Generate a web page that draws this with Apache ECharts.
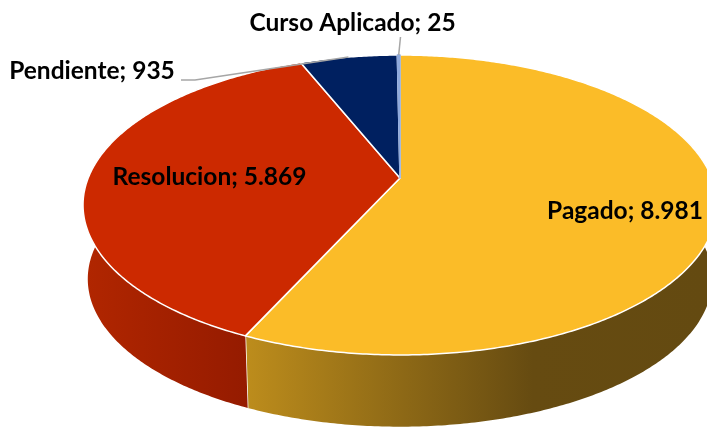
<!DOCTYPE html>
<html>
<head>
<meta charset="utf-8">
<style>
  html, body { margin: 0; padding: 0; background: #fff; }
  #main { width: 707px; height: 427px; }
</style>
<script src="https://cdn.jsdelivr.net/npm/echarts@6/dist/echarts.min.js"></script>
</head>
<body>
<div id="main"></div>
<script>
const categories = ['Pagado', 'Resolucion', 'Pendiente', 'Curso Aplicado']
const values = [8981, 5869, 935, 25]
const valueLabels = ['8.981', '5.869', '935', '25']

const topColors = ['#FBBC28', '#CC2900', '#002060', '#8FAADC']
const topStrokes = ['#fff', '#fff', '#fff', '#8FAADC']

// pie geometry, tilted disc projected with a small perspective
const apexX = 400
const apexY = 178
const radiusX = 311.8
const radiusY = 145.1
const tilt = 0.18
const midY = 205
const baseScale = 0.985
const depth = 74

const total = values.reduce((a, b) => a + b, 0)

const sliceAngles = (index) => {
  const before = values.slice(0, index).reduce((a, b) => a + b, 0)
  return [
    (before / total) * Math.PI * 2,
    ((before + values[index]) / total) * Math.PI * 2,
  ]
}

const rimPoint = (angle) => {
  const x = Math.sin(angle)
  const y = -Math.cos(angle)
  const d = 1 - tilt * y
  return [apexX + (radiusX * x) / d, apexY + (radiusY * y) / d]
}

const basePoint = (p) => [
  apexX + (p[0] - apexX) * baseScale,
  midY + (p[1] - midY) * baseScale + depth,
]

const rimPoints = (from, to) => {
  const steps = Math.max(2, Math.ceil((to - from) / 0.01))
  const points = []
  for (let i = 0; i <= steps; i++) {
    points.push(rimPoint(from + ((to - from) * i) / steps))
  }
  return points
}

const wallGradients = [
  new echarts.graphic.LinearGradient(248, 0, 707, 0, [
    { offset: 0, color: '#BC8C1C' },
    { offset: 0.62, color: '#664B11' },
    { offset: 1, color: '#644A11' },
  ], true),
  new echarts.graphic.LinearGradient(83, 0, 248, 0, [
    { offset: 0, color: '#B12600' },
    { offset: 1, color: '#951B00' },
  ], true),
]

// only the front of the disc has a visible wall
const wallFrom = (70 / 180) * Math.PI
const wallTo = (290 / 180) * Math.PI

const renderWall = (params) => {
  const [start, end] = sliceAngles(params.dataIndex)
  const from = Math.max(start, wallFrom)
  const to = Math.min(end, wallTo)
  if (to <= from) return { type: 'group', children: [] }
  const top = rimPoints(from, to)
  const bottom = top.map(basePoint).reverse()
  const children = [
    {
      type: 'polygon',
      shape: { points: top.concat(bottom) },
      style: { fill: wallGradients[params.dataIndex] },
    },
  ]
  if (to < wallTo) {
    const p = rimPoint(to)
    const q = basePoint(p)
    children.push({
      type: 'line',
      shape: { x1: p[0], y1: p[1], x2: q[0], y2: q[1] },
      style: { stroke: '#fff', lineWidth: 1.5 },
    })
  }
  return { type: 'group', children }
}

const renderTop = (params) => {
  const [start, end] = sliceAngles(params.dataIndex)
  return {
    type: 'polygon',
    shape: { points: [[apexX, apexY]].concat(rimPoints(start, end)) },
    style: {
      fill: topColors[params.dataIndex],
      stroke: topStrokes[params.dataIndex],
      lineWidth: 1.5,
      lineJoin: 'round',
    },
  }
}

// label anchors, x is the centre of the text
const labelPlaces = [
  { x: 625, y: 211 },
  { x: 209.5, y: 177 },
  { x: 92, y: 71 },
  { x: 352.5, y: 23 },
]
const leaderFrom = [null, null, [[181, 80], [195, 80]], [[400.5, 37]]]

const renderLabel = (params) => {
  const i = params.dataIndex
  const [start, end] = sliceAngles(i)
  const children = []
  if (leaderFrom[i]) {
    children.push({
      type: 'polyline',
      shape: { points: leaderFrom[i].concat([rimPoint((start + end) / 2)]) },
      style: { stroke: '#A6A6A6', lineWidth: 1.5, fill: 'none' },
    })
  }
  children.push({
    type: 'text',
    x: labelPlaces[i].x,
    y: labelPlaces[i].y,
    style: {
      text: categories[i] + '; ' + valueLabels[i],
      fill: '#000',
      font: 'bold 24.5px Lato',
      align: 'center',
      verticalAlign: 'middle',
    },
  })
  return { type: 'group', children }
}

const chart = echarts.init(document.getElementById('main'), null, { renderer: 'canvas' })
const seriesData = values.map((v, i) => ({ name: categories[i], value: v }))

chart.setOption({
  animation: false,
  backgroundColor: '#fff',
  series: [
    { type: 'custom', coordinateSystem: 'none', silent: true, z: 1, data: seriesData, renderItem: renderWall },
    { type: 'custom', coordinateSystem: 'none', silent: true, z: 2, data: seriesData, renderItem: renderTop },
    { type: 'custom', coordinateSystem: 'none', silent: true, z: 3, data: seriesData, renderItem: renderLabel },
  ],
})
</script>
</body>
</html>
